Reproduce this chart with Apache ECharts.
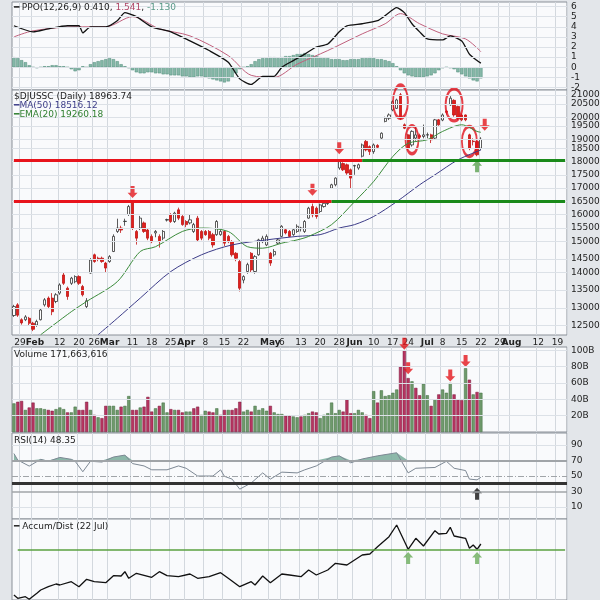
<!DOCTYPE html>
<html>
<head>
<meta charset="utf-8">
<script src="https://cdn.jsdelivr.net/npm/echarts@6/dist/echarts.min.js"></script>
<style>html,body{margin:0;background:#e3e6ea}#chart{width:600px;height:600px}</style>
</head>
<body>
<div id="chart"></div>
<script>
// trading days (weekdays without market holidays), Jan 25 .. Aug 21 2024
var holidays = ['2024-02-19','2024-03-29','2024-05-27','2024-06-19','2024-07-04'];
var days = [];
var d = new Date(Date.UTC(2024, 0, 25));
while (days.length < 145) {
    var wd = d.getUTCDay(), s = d.toISOString().slice(0, 10);
    if (wd > 0 && wd < 6 && holidays.indexOf(s) < 0) days.push(s);
    d.setUTCDate(d.getUTCDate() + 1);
}

// vertical grid lines
var gridDates = ['2024-01-29','2024-02-01','2024-02-12','2024-02-20','2024-02-26','2024-03-01','2024-03-11','2024-03-18','2024-03-25','2024-04-01','2024-04-08','2024-04-15','2024-04-22','2024-05-01','2024-05-06','2024-05-13','2024-05-20','2024-05-28','2024-06-03','2024-06-10','2024-06-17','2024-06-24','2024-07-01','2024-07-08','2024-07-15','2024-07-22','2024-07-29','2024-08-01','2024-08-12','2024-08-19'];
// x tick labels ("29 Feb" drawn as one label between Jan 29 and Feb 1)
var labelDates = ['2024-01-31','2024-02-12','2024-02-20','2024-02-26','2024-03-01','2024-03-11','2024-03-18','2024-03-25','2024-04-01','2024-04-08','2024-04-15','2024-04-22','2024-05-01','2024-05-06','2024-05-13','2024-05-20','2024-05-28','2024-06-03','2024-06-10','2024-06-17','2024-06-24','2024-07-01','2024-07-08','2024-07-15','2024-07-22','2024-07-29','2024-08-01','2024-08-12','2024-08-19'];
var labelTexts = ['29 Feb','12','20','26','Mar','11','18','25','Apr','8','15','22','May','6','13','20','28','Jun','10','17','24','Jul','8','15','22','29','Aug','12','19'];

// daily candles [open, close, low, high]
var candles = [
[12740,13000,12700,13050],[13050,12750,12700,13100],[12620,12530,12480,12660],[12620,12700,12580,12750],[12660,12520,12450,12700],
[12520,12350,12300,12560],[12470,12570,12420,12620],[12620,12900,12600,12950],[13050,13200,13000,13250],[13250,13000,12950,13300],
[13250,12850,12750,13400],[13150,13350,13100,13400],[13400,13650,13350,13700],[13960,13700,13650,14050],[13550,13300,13200,13600],
[13700,13860,13650,13900],[13750,13910,13700,13950],[13910,13700,13650,13950],[13600,13350,13300,13650],[13000,13170,12950,13250],
[14020,14440,14000,14500],[14610,14390,14350,14650],[14500,14480,14400,14550],[14500,14390,14350,14550],[14340,14180,14050,14380],
[14390,14550,14350,14600],[14720,15230,14700,15300],[15400,15520,15350,15850],[15520,15450,15350,15600],[15750,15760,15600,15850],
[16000,16290,15950,16350],[16470,15520,15450,16500],[15400,15170,14950,15450],[15520,15870,15450,15950],[15700,15400,15350,15750],
[15450,15170,15100,15500],[15230,15050,15000,15300],[15350,15400,15200,15450],[15230,15050,14850,15300],[15170,15400,15100,15450],
[15800,15820,15750,15850],[15990,15750,15700,16050],[15750,16050,15700,16100],[16170,15870,15800,16250],[15930,15640,15600,15980],
[15750,15640,15550,15800],[15700,15810,15650,16000],[15400,15640,15350,15700],[15870,15110,15050,15950],[15400,15170,15100,15450],
[15400,15290,15250,15450],[15400,15170,15100,15450],[15290,14940,14850,15350],[15290,15750,15250,15800],[15290,15400,15250,15450],
[15400,15000,14900,15450],[15230,15050,15000,15280],[15050,14610,14550,15100],[14660,14500,14400,14700],[14390,13550,13450,14450],
[13800,13910,13700,13950],[14070,14290,14000,14350],[14660,14120,14050,14700],[14070,14550,14000,14600],[14610,15110,14580,15150],
[15050,15170,15000,15250],[14940,15230,14900,15300],[14660,14340,14250,14700],[14610,14720,14550,14800],[15000,15110,14950,15150],
[15230,15580,15200,15620],[15460,15350,15300,15500],[15400,15230,15200,15450],[15290,15460,15250,15500],[15400,15580,15350,15650],
[15500,15520,15400,15560],[15400,15750,15350,15800],[15870,16230,15850,16280],[16290,15990,15900,16400],[16230,15930,15850,16290],
[16110,16350,16050,16400],[16290,16410,16250,16450],[16400,16420,16350,16500],[16980,17110,16950,17150],[17110,17370,17050,17400],
[17770,18030,17700,18100],[17950,17700,17650,18000],[17900,17570,17500,17950],[17700,17370,16980,17750],[17850,17870,17500,17900],
[17770,17900,17700,17950],[18250,18720,18200,18780],[18870,18510,18450,18950],[18650,18440,18300,18700],[18440,18720,18350,18780],
[18700,18620,18550,18750],[19010,19220,18980,19260],[19740,19880,19700,19950],[19880,20030,19800,20100],[20260,20640,20200,20700],
[20330,20720,20300,20780],[20960,19880,19800,21050],[19590,19440,19400,19650],[19150,18580,18500,19200],[18720,19300,18650,19350],
[19010,19150,18900,19500],[19120,19050,18950,19200],[19080,19150,19000,19600],[19140,19160,19000,19250],[19150,18940,18800,19200],
[19010,19810,18950,19850],[19810,19590,19550,19850],[19800,20030,19750,20100],[20200,20150,20050,20250],[20490,20800,20450,20900],
[20700,20030,19950,20750],[20420,19880,19800,20450],[20030,19810,19750,20100],[20030,19810,19750,20050],[19150,18580,18500,19200],
[18880,18860,18700,19000],[18870,18310,18250,18900],[18580,18964,18500,19050]
];

// volume, billions
var volume = [
35,37,38,27,30,36,29,29,28,27, 26,28,30,28,24,24,31,27,27,37,
27,21,18,17,32,32,32,27,31,32, 44,27,27,30,31,43,25,29,32,36,
24,28,27,27,24,25,25,29,31,21, 26,25,24,29,21,27,27,27,29,37,
25,27,25,32,27,29,26,32,24,22, 22,20,20,19,18,19,21,23,25,24,
17,21,23,36,23,27,25,40,23,23, 27,24,21,17,50,36,51,44,45,48,
52,80,100,66,62,54,45,59,45,32, 40,46,52,48,60,46,40,39,78,64,
46,49,48
];

// moving averages [dayIndex, value]
var ma50 = [[22,12200],[27,12660],[33,13250],[41,14070],[49,14610],[57,14940],[66,15110],[74,15230],[80,15290],[85,15520],[89,15640],[94,15930],[100,16470],[106,17110],[110,17500],[116,18100],[122,18510]];
var ema20 = [[7,12200],[15,12850],[19,13150],[27,13750],[33,14720],[37,14880],[44,15400],[49,15520],[56,15400],[61,14880],[65,14830],[70,15000],[74,15110],[77,15230],[83,15640],[89,16470],[94,17240],[99,18240],[103,18790],[108,18940],[112,19300],[117,19590],[121,19300],[122,19260]];

// PPO
var ppo = [[0,4.1],[5,3.5],[9,3.8],[14,4.1],[17,4.1],[18,3.4],[20,4.0],[24,4.0],[27,4.6],[29,5.4],[30,5.3],[32,5.0],[36,4.0],[41,3.5],[46,2.6],[51,1.65],[56,0.5],[59,-1.15],[62,-1.7],[65,-0.9],[68,-0.9],[70,0],[73,0.66],[76,1.3],[79,2.0],[82,2.3],[85,3.5],[87,4.1],[91,4.3],[95,4.6],[97,5.1],[100,5.9],[102,5.4],[104,4.3],[106,3.5],[108,2.8],[112,2.7],[114,3.1],[117,2.6],[119,1.3],[121,0.66],[122,0.41]];
var ppoSignal = [[0,3.0],[5,3.6],[16,4.0],[24,4.0],[31,5.0],[38,3.8],[46,3.1],[56,1.15],[62,-0.8],[68,-1.0],[74,0.3],[82,1.65],[91,3.3],[97,4.3],[101,5.3],[106,4.3],[112,3.3],[118,2.8],[122,1.54]];
var ppoHist = [
1.0,0.9,0.7, 0.5,0.2,0,-0.1, 0,0.1,0.1,0.2,0.2,0.1, 0.1,0,-0.2,-0.4, -0.3,0.1,0, 0.3,0.5,0.6,0.7,0.8,
0.9,0.8,0.6,0.3,0.1, -0.1,-0.3,-0.5,-0.6,-0.6, -0.5,-0.5,-0.6,-0.6,-0.7,-0.7,-0.8,-0.8,-0.8,-0.9,
-0.9,-1.0,-1.0,-0.9,-0.9,-1.0,-1.1,-1.2,-1.3,-1.4,-1.5, -1.4,-1.0,-0.6,-0.2,0, 0.1,0.3,0.6,0.8,0.9,
0.9,1.0,1.0,0.9,1.0,1.1,1.1,1.2,1.3,1.3, 1.4,1.3,1.2,1.1,1.0,0.9,0.9,0.8,0.8,0.8,
0.7,0.7,0.8,0.8,0.8,0.9,0.9,1.0,0.9,0.8, 0.8,0.7,0.6,0.4,0.1,
-0.3,-0.6,-0.8,-0.9,-1.0,-1.0,-1.0,-0.9,-0.8,-0.6, -0.3,-0.1,0,-0.1,-0.2, -0.5,-0.7,-0.9,-1.1,-1.3,-1.4,-1.1
];

// RSI(14)
var rsi = [[0,79],[1,70.6],[4,62.8],[7,71.5],[9,68.9],[12,74],[15,71.5],[16,69],[18,55.5],[20,69],[23,68],[26,74.5],[29,77],[31,66],[34,63],[36,58],[40,58],[43,63],[45,60],[48,50],[52,50],[54,58],[55,49.6],[57,46],[59,33],[62,41],[65,54],[67,46],[70,55],[74,54],[76,58],[79,63],[83,74.5],[85,76],[88,67],[91,72],[95,76],[100,80],[103,54],[105,60],[110,61],[113,69],[115,60],[118,57],[119,46],[121,45],[122,48.35]];

// Accum/Dist (relative units)
var accDist = [[0,5],[1,1.7],[3,3.3],[4,0.7],[6,6.7],[7,10],[9,13.3],[11,16],[12,15],[15,18.3],[17,13.3],[19,20.7],[21,18.3],[24,17.3],[26,24.3],[28,24],[29,28.3],[30,21.7],[32,26.7],[36,22.7],[38,28.3],[40,24.3],[43,23.3],[46,26],[48,21.7],[51,23.3],[54,27.3],[56,21.7],[59,13.3],[62,18.3],[63,15],[65,24],[67,17.3],[70,26],[72,25],[75,23.3],[77,30],[79,25],[82,30],[84,36.7],[87,35],[89,40],[91,45],[93,46],[95,53.3],[98,63.3],[100,75],[103,50.7],[105,61.7],[107,54],[110,69.3],[111,66],[113,66.7],[114,72.7],[115,64],[118,61.7],[119,51.7],[120,55],[121,50.7],[122,56]];

// axis ticks
var priceTicks = [12500,13000,13500,14000,14500,15000,15500,16000,16500,17000,17500,18000,18500,19000,19500,20000,20500,21000];
var ppoTicks = [-2,-1,0,1,2,3,4,5,6];
var volTicks = [20,40,60,80,100];

// annotations
var priceDownArrows = [[31,16830],[78,16920],[85,18580],[123,19590]];
var priceUpArrows = [[121,17840]];
var priceRings = [[101,20640,15,33],[104,18940,13,28],[115,20490,17,32],[119,18870,15,30]];
var volArrows = [[102,108],[103,78],[114,69],[118,87]];
var rsiArrows = [[121,27]];
var adArrows = [[103,42],[121,42]];

// --- build ---
var ln = Math.log;
var gridSet = {}, labelMap = {};
gridDates.forEach(function (t) { gridSet[t] = true; });
labelDates.forEach(function (t, i) { labelMap[t] = labelTexts[i]; });
var isGrid = function (i, v) { return !!gridSet[v]; };
var isLabel = function (i, v) { return labelMap[v] !== undefined; };
var downPath = 'path://M3,0L7,0L7,6L10,6L5,11L0,6L3,6Z';
var upPath = 'path://M5,0L10,5L7,5L7,11L3,11L3,5L0,5Z';
var FONT = 'DejaVu Sans';

var candleLn = candles.map(function (c) { return c.map(ln); });
var volData = volume.map(function (v, i) {
    var up = i === 0 ? candles[0][1] >= candles[0][0] : candles[i][1] >= candles[i - 1][1];
    return {value: v, itemStyle: {color: up ? '#6f9a6c' : '#b73561', borderColor: up ? '#3d6b3c' : '#7a1a3c'}};
});
var rsiFill = rsi.map(function (p) { return [p[0], Math.max(p[1], 70)]; });

function gridMark(vals, fmt, tf) {
    return {
        silent: true, symbol: ['none', 'none'], animation: false,
        lineStyle: {color: '#dce1e7', width: 1, type: 'solid'},
        label: {position: 'end', distance: 4, fontSize: 9, fontFamily: FONT, color: '#222'},
        data: vals.map(function (v) { return {yAxis: tf ? tf(v) : v, label: {formatter: fmt(v)}}; })
    };
}
function hseg(a, b, y, color, w) {
    return [{coord: [days[a], y], lineStyle: {color: color, width: w, type: 'solid'}}, {coord: [days[b], y]}];
}

var grids = [
    {top: 2, height: 88},
    {top: 90, height: 245},
    {top: 347, height: 85},
    {top: 433, height: 86},
    {top: 519, height: 81}
].map(function (g) {
    return {left: 12, right: 33, top: g.top, height: g.height, show: true,
        backgroundColor: '#f9fafc', borderColor: '#8a9098', borderWidth: 1};
});

var xAxes = grids.map(function (g, i) {
    return {
        type: 'category', gridIndex: i, data: days, boundaryGap: true,
        axisLine: {show: false}, axisTick: {show: false},
        splitLine: {show: true, interval: isGrid, lineStyle: {color: '#d3d8de'}},
        axisLabel: i === 1 ? {
            show: true, interval: isLabel, hideOverlap: false, fontSize: 9, fontFamily: FONT, color: '#222', margin: 3,
            formatter: function (v) {
                var t = labelMap[v];
                if (t === '29 Feb') return '29{b|Feb}';
                return /^[A-Z]/.test(t) ? '{b|' + t + '}' : t;
            },
            rich: {b: {fontWeight: 'bold', fontSize: 9, fontFamily: FONT}}
        } : {show: false}
    };
});

function yAx(i, min, max) {
    return {type: 'value', gridIndex: i, min: min, max: max, position: 'right',
        axisLabel: {show: false}, axisLine: {show: false}, axisTick: {show: false}, splitLine: {show: false}};
}
var yAxes = [
    yAx(0, -2.25, 6.45),
    yAx(1, ln(12192), ln(21190)),
    yAx(2, 0, 104),
    yAx(3, -5.5, 105.5),
    yAx(4, 0, 81)
];

var series = [
    // PPO panel
    {type: 'bar', xAxisIndex: 0, yAxisIndex: 0, data: ppoHist, barWidth: '85%',
        itemStyle: {color: '#86b8a8', borderColor: '#4e8a78', borderWidth: 0.5},
        markLine: gridMark(ppoTicks, function (v) { return String(v); })},
    {type: 'line', xAxisIndex: 0, yAxisIndex: 0, data: ppoSignal, smooth: 0.3, symbol: 'none',
        lineStyle: {color: '#c0607c', width: 1}},
    {type: 'line', xAxisIndex: 0, yAxisIndex: 0, data: ppo, smooth: 0.2, symbol: 'none',
        lineStyle: {color: '#111', width: 1.3}},

    // price panel
    {type: 'candlestick', xAxisIndex: 1, yAxisIndex: 1, data: candleLn, barWidth: '70%',
        itemStyle: {color: '#ffffff', borderColor: '#333', color0: '#e0201c', borderColor0: '#c01414', borderWidth: 0.8},
        markLine: gridMark(priceTicks, function (v) { return String(v); }, ln)},
    {type: 'line', xAxisIndex: 1, yAxisIndex: 1, data: ma50.map(function (p) { return [p[0], ln(p[1])]; }),
        smooth: 0.3, symbol: 'none', lineStyle: {color: '#3c3c88', width: 1}},
    {type: 'line', xAxisIndex: 1, yAxisIndex: 1, data: ema20.map(function (p) { return [p[0], ln(p[1])]; }),
        smooth: 0.3, symbol: 'none', lineStyle: {color: '#3b8b3b', width: 1},
        markLine: {silent: true, symbol: ['none', 'none'], label: {show: false}, animation: false,
            data: [hseg(0, 91, ln(18100), '#e8141c', 3), hseg(91, 144, ln(18100), '#1a8a1a', 3),
                   hseg(0, 83, ln(16500), '#e8141c', 3), hseg(83, 144, ln(16500), '#1a8a1a', 3)]}},
    {type: 'scatter', xAxisIndex: 1, yAxisIndex: 1, clip: false, symbol: downPath, symbolSize: [10, 12],
        itemStyle: {color: '#e3161c'}, data: priceDownArrows.map(function (p) { return [p[0], ln(p[1])]; })},
    {type: 'scatter', xAxisIndex: 1, yAxisIndex: 1, clip: false, symbol: upPath, symbolSize: [10, 12],
        itemStyle: {color: '#5aa050'}, data: priceUpArrows.map(function (p) { return [p[0], ln(p[1])]; })},
    {type: 'scatter', xAxisIndex: 1, yAxisIndex: 1, clip: false, symbol: 'circle',
        itemStyle: {color: 'rgba(0,0,0,0)', borderColor: '#e0101a', borderWidth: 2.5},
        data: priceRings.map(function (p) { return {value: [p[0], ln(p[1])], symbolSize: [p[2], p[3]]}; })},

    // volume panel
    {type: 'bar', xAxisIndex: 2, yAxisIndex: 2, data: volData, barWidth: '82%',
        itemStyle: {borderWidth: 0.5},
        markLine: gridMark(volTicks, function (v) { return v + 'B'; })},
    {type: 'scatter', xAxisIndex: 2, yAxisIndex: 2, clip: false, symbol: downPath, symbolSize: [10, 12],
        itemStyle: {color: '#e3161c'}, data: volArrows},

    // RSI panel
    {type: 'line', xAxisIndex: 3, yAxisIndex: 3, data: rsiFill, symbol: 'none',
        lineStyle: {width: 0}, areaStyle: {origin: 70, color: '#7fb0a0', opacity: 0.9},
        markLine: {silent: true, symbol: ['none', 'none'], animation: false,
            label: {position: 'end', distance: 4, fontSize: 9, fontFamily: FONT, color: '#222'},
            data: [
                {yAxis: 90, label: {formatter: '90'}, lineStyle: {color: '#dce1e7', width: 1, type: 'solid'}},
                {yAxis: 10, label: {formatter: '10'}, lineStyle: {color: '#dce1e7', width: 1, type: 'solid'}},
                {yAxis: 70, label: {formatter: '70'}, lineStyle: {color: '#a0a4a8', width: 2, type: 'solid'}},
                {yAxis: 30, label: {formatter: '30'}, lineStyle: {color: '#a0a4a8', width: 1.5, type: 'solid'}},
                {yAxis: 50, label: {formatter: '50'}, lineStyle: {color: '#a0a4a8', width: 1, type: [6, 2, 1, 2]}},
                {yAxis: 40, label: {show: false}, lineStyle: {color: '#333', width: 3, type: 'solid'}}
            ]}},
    {type: 'line', xAxisIndex: 3, yAxisIndex: 3, data: rsi, symbol: 'none',
        lineStyle: {color: '#7d8894', width: 1}},
    {type: 'scatter', xAxisIndex: 3, yAxisIndex: 3, clip: false, symbol: upPath, symbolSize: [10, 12],
        itemStyle: {color: '#111'}, data: rsiArrows},

    // Accum/Dist panel
    {type: 'line', xAxisIndex: 4, yAxisIndex: 4, data: accDist, symbol: 'none',
        lineStyle: {color: '#111', width: 1.3},
        markLine: {silent: true, symbol: ['none', 'none'], label: {show: false}, animation: false,
            data: [hseg(1, 144, 50, '#5aa040', 1.5)]}},
    {type: 'scatter', xAxisIndex: 4, yAxisIndex: 4, clip: false, symbol: upPath, symbolSize: [10, 12],
        itemStyle: {color: '#6aac5a'}, data: adArrows}
];

function label(x, y, text, rich) {
    return {type: 'text', left: x, top: y, z: 100, silent: true,
        style: {text: text, fontSize: 9, fontFamily: FONT, fill: '#222', rich: rich || {}}};
}

var chart = echarts.init(document.getElementById('chart'));
chart.setOption({
    animation: false,
    backgroundColor: '#e3e6ea',
    grid: grids,
    xAxis: xAxes,
    yAxis: yAxes,
    series: series,
    graphic: [
        label(14, 3, '{k|━} PPO(12,26,9) 0.410, {p|1.541}, {t|-1.130}',
            {k: {fill: '#111', fontSize: 9}, p: {fill: '#b04868', fontSize: 9, fontFamily: FONT}, t: {fill: '#5a9a88', fontSize: 9, fontFamily: FONT}}),
        label(14, 92, '$DJUSSC (Daily) 18963.74'),
        label(14, 101, '{m|━MA(50) 18516.12}', {m: {fill: '#3c3c88', fontSize: 9, fontFamily: FONT}}),
        label(14, 110, '{e|━EMA(20) 19260.18}', {e: {fill: '#2f7f2f', fontSize: 9, fontFamily: FONT}}),
        label(14, 350, 'Volume 171,663,616'),
        label(14, 436, 'RSI(14) 48.35'),
        label(14, 522, '━ Accum/Dist (22 Jul)')
    ]
});
</script>
</body>
</html>
